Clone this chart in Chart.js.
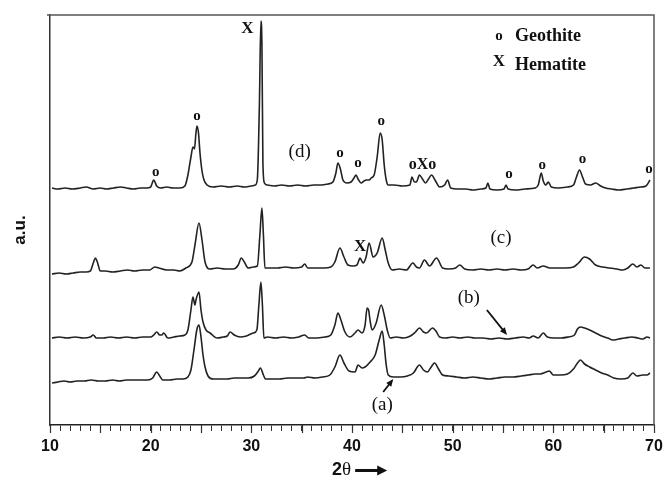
<!DOCTYPE html>
<html><head><meta charset="utf-8">
<script src="https://cdn.jsdelivr.net/npm/chart.js@4/dist/chart.umd.min.js"></script>
<style>html,body{margin:0;padding:0;background:#fff}#wrap{width:666px;height:481px;position:relative}</style>
</head><body><div id="wrap"><canvas id="c"></canvas></div>
<script>
// 2θ (degrees) and stacked intensity (a.u.)
const traceD = [[10.2,237],[10.8,236],[11.5,237],[12.2,236],[13,237],[13.6,238],[14.3,236],[15,237],[15.6,236],[16.3,237],[17,238],[17.6,237],[18.3,236],[19,237],[19.6,237],[20.0,238],[20.3,245],[20.6,239],[21,237],[21.6,238],[22.2,237],[22.9,237],[23.4,239],[23.7,250],[24.0,268],[24.2,278],[24.35,276],[24.5,292],[24.6,299],[24.75,292],[24.9,272],[25.1,254],[25.3,245],[25.6,240],[26.2,238],[27,239],[27.8,238],[28.6,239],[29.3,238],[30.0,239],[30.4,240],[30.6,246],[30.8,320],[30.95,404],[31.05,382],[31.15,262],[31.3,242],[31.6,240],[32.3,239],[33,240],[33.8,239],[34.6,240],[35.4,239],[36.2,240],[37,240],[37.6,241],[38.1,243],[38.4,252],[38.6,262],[38.85,256],[39.1,245],[39.5,242],[39.9,243],[40.2,247],[40.4,250],[40.6,246],[40.9,242],[41.2,244],[41.4,245],[41.7,245],[41.9,247],[42.2,250],[42.5,268],[42.8,292],[43.0,285],[43.2,260],[43.4,245],[43.6,240],[44.2,240],[45,239],[45.75,240],[45.95,248],[46.2,243],[46.4,243],[46.7,250],[47.0,246],[47.3,242],[47.6,246],[47.9,250],[48.3,244],[48.7,238],[49.2,240],[49.5,245],[49.8,237],[50.5,236],[51.3,236],[52,235],[52.8,236],[53.3,237],[53.5,242],[53.7,236],[54.4,235],[55.1,236],[55.3,240],[55.5,236],[56.3,235],[57.2,236],[58.2,237],[58.5,240],[58.8,252],[59.0,244],[59.25,240],[59.5,243],[59.8,238],[60.5,237],[61.4,238],[62,240],[62.3,248],[62.6,255],[62.9,248],[63.2,241],[63.7,240],[64.2,242],[64.7,239],[65.2,237],[65.8,236],[66.5,235],[67.3,236],[68,237],[68.7,238],[69.2,239],[69.6,245]];
const traceC = [[10.2,151],[10.9,152],[11.6,151],[12.3,152],[13,153],[13.6,153],[14.0,154],[14.3,162],[14.5,167],[14.7,163],[15.0,154],[15.5,154],[16.2,153],[17,154],[17.7,155],[18.4,154],[19.2,155],[19.9,155],[20.4,158],[20.8,157],[21.6,155],[22.3,155],[22.9,154],[23.5,157],[24.1,163],[24.4,180],[24.8,202],[25.1,185],[25.4,163],[25.9,156],[26.6,157],[27.4,156],[28.2,156],[28.7,160],[29.0,167],[29.3,163],[29.7,157],[30.2,158],[30.6,159],[30.85,190],[31.05,217],[31.2,190],[31.35,157],[31.8,157],[32.6,157],[33.4,158],[34.2,157],[35,158],[35.3,161],[35.6,157],[36.4,157],[37.2,157],[37.9,158],[38.3,163],[38.8,177],[39.2,168],[39.6,160],[40.1,159],[40.5,160],[40.8,167],[41.1,162],[41.4,168],[41.7,182],[42.1,168],[42.5,172],[43.0,187],[43.3,175],[43.6,162],[44.0,155],[44.7,156],[45.4,155],[46.05,162],[46.4,158],[46.7,157],[47.2,165],[47.7,159],[48.4,167],[49.0,157],[49.6,156],[50.3,157],[50.7,160],[51.2,156],[52,155],[52.8,156],[53.6,155],[54.4,156],[55.2,155],[56,156],[56.8,155],[57.5,156],[58.0,160],[58.4,157],[59,159],[59.65,157],[60.4,157],[61.2,157],[62,158],[62.5,162],[63.1,168],[63.6,166],[64.2,160],[64.9,158],[65.6,157],[66.3,156],[66.9,155],[67.4,157],[67.9,161],[68.3,158],[68.7,160],[69.1,157],[69.6,157]];
const traceB = [[10.2,87],[10.9,88],[11.7,87],[12.5,88],[13.3,87],[14.0,88],[14.3,90],[14.6,87],[15.3,87],[16,88],[16.8,87],[17.6,88],[18.4,87],[19.2,88],[20,88],[20.3,90],[20.6,93],[20.9,90],[21.1,90],[21.3,92],[21.7,87],[22.3,88],[22.9,89],[23.4,90],[23.7,95],[24.0,115],[24.2,128],[24.4,120],[24.5,125],[24.8,133],[25.0,115],[25.2,103],[25.5,95],[25.9,92],[26.6,87],[27.2,88],[27.6,89],[27.9,93],[28.3,90],[28.9,88],[29.5,89],[30.2,92],[30.55,95],[30.75,120],[30.95,143],[31.1,120],[31.25,87],[31.6,88],[32.4,87],[33.2,88],[34,87],[34.7,88],[35.3,90],[35.7,87],[36.5,87],[37.3,88],[37.9,90],[38.3,100],[38.6,112],[38.9,105],[39.3,93],[39.8,88],[40.3,92],[40.6,95],[41.0,92],[41.3,100],[41.5,117],[41.65,115],[41.8,104],[42.0,95],[42.4,102],[42.9,120],[43.2,110],[43.5,95],[43.8,87],[44.4,88],[45.1,87],[45.8,89],[46.3,93],[46.7,97],[47.1,93],[47.4,92],[48.0,97],[48.4,93],[48.7,88],[49.3,87],[50,88],[50.7,87],[51.5,88],[52.2,87],[53,87],[53.8,86],[54.6,87],[55.4,86],[56.2,87],[57.0,88],[57.6,87],[58.0,89],[58.5,87],[59.0,92],[59.4,88],[60.1,87],[60.8,87],[61.5,88],[62.1,90],[62.4,96],[62.7,98],[63.1,97],[63.6,95],[64.2,92],[64.8,89],[65.4,87],[65.9,85],[66.5,86],[67.1,87],[67.8,88],[68.4,87],[68.9,86],[69.3,88],[69.6,87]];
const traceA = [[10.2,42],[10.8,43],[11.4,44],[12,43],[12.7,44],[13.4,44],[14.1,45],[14.8,44],[15.5,44],[16.2,45],[16.9,44],[17.6,45],[18.3,45],[19,45],[19.7,45],[20.2,47],[20.6,53],[20.9,49],[21.2,45],[21.9,45],[22.6,46],[23.2,46],[23.7,48],[24.0,55],[24.3,75],[24.6,96],[24.8,100],[25.0,88],[25.2,70],[25.4,58],[25.7,49],[26.2,46],[26.9,46],[27.6,46],[28.3,47],[29,47],[29.7,47],[30.3,49],[30.7,54],[30.9,57],[31.2,50],[31.4,46],[32,46],[32.8,46],[33.6,47],[34.4,47],[35.2,47],[35.6,48],[36.3,47],[37.1,48],[37.8,50],[38.3,58],[38.8,70],[39.2,62],[39.7,54],[40.3,53],[40.6,60],[41.0,57],[41.3,58],[41.8,63],[42.3,70],[42.7,85],[43.0,94],[43.2,80],[43.4,60],[43.6,50],[44.1,48],[44.8,48],[45.5,49],[46.1,52],[46.7,60],[47.1,55],[47.5,53],[47.8,57],[48.2,62],[48.6,56],[49.0,50],[49.6,49],[50.4,48],[51.2,47],[52,48],[52.8,47],[53.6,46],[54.4,47],[55.2,48],[56,48],[56.8,49],[57.5,50],[58.2,51],[58.7,51],[59.3,53],[59.6,54],[60,50],[60.7,50],[61.4,51],[62,56],[62.4,62],[62.7,65],[63.1,61],[63.6,58],[64.2,55],[64.8,52],[65.4,50],[66,47],[66.7,46],[67.4,47],[67.9,52],[68.3,49],[68.9,50],[69.3,50],[69.6,52]];

const seriesNames = ['(a)', '(b)', '(c)', '(d)'];
const xTickLabels = [10, 20, 30, 40, 50, 60, 70];
const xMajorTicks = [10, 15, 20, 25, 30, 35, 40, 45, 50, 55, 60, 65, 70];
const xTitle = '2θ';
const yTitle = 'a.u.';
// phase markers: [text, 2θ, a.u.]
const phaseMarks = [['o',20.5,253],['o',24.6,309],['X',29.6,396],['o',38.8,272],['o',40.6,262],['o',42.9,304],['oXo',47.0,260],['o',55.6,251],['o',58.9,260],['o',62.9,266],['o',69.5,256],['X',40.8,178]];
// series labels: [text, 2θ, a.u.]
const seriesLabelPos = [['(a)',43.0,20],['(b)',51.6,127],['(c)',54.8,187],['(d)',34.8,273]];
const legendItems = [['o','Geothite'],['X','Hematite']];

const overlay = {
  id: 'overlay',
  afterDraw(chart) {
    const {ctx, chartArea: a, scales: {x, y}} = chart;
    ctx.save();
    ctx.strokeStyle = '#555'; ctx.lineWidth = 1.5;
    ctx.beginPath(); ctx.moveTo(a.left - 3, a.top); ctx.lineTo(a.right, a.top); ctx.lineTo(a.right, a.bottom); ctx.stroke();

    // slightly longer major ticks
    ctx.strokeStyle = '#333'; ctx.lineWidth = 1.2;
    ctx.beginPath();
    xMajorTicks.forEach(v => { const px = Math.round(x.getPixelForValue(v)) + 0.5; ctx.moveTo(px, a.bottom); ctx.lineTo(px, a.bottom + 8); });
    ctx.stroke();

    ctx.fillStyle = '#111';
    ctx.textAlign = 'center'; ctx.textBaseline = 'middle';
    phaseMarks.forEach(([t, px, py]) => {
      ctx.font = (t === 'o' ? 'bold 15px' : 'bold 17px') + ' "Liberation Serif", serif';
      if (t === 'oXo') ctx.font = 'bold 16px "Liberation Serif", serif';
      ctx.fillText(t, x.getPixelForValue(px), y.getPixelForValue(py));
    });
    ctx.font = '19px "Liberation Serif", serif';
    seriesLabelPos.forEach(([t, px, py]) => ctx.fillText(t, x.getPixelForValue(px), y.getPixelForValue(py)));

    // arrows for (a) and (b)
    const arrow = (x1, y1, x2, y2) => {
      const X1 = x.getPixelForValue(x1), Y1 = y.getPixelForValue(y1), X2 = x.getPixelForValue(x2), Y2 = y.getPixelForValue(y2);
      const ang = Math.atan2(Y2 - Y1, X2 - X1);
      ctx.strokeStyle = '#111'; ctx.lineWidth = 1.8;
      ctx.beginPath(); ctx.moveTo(X1, Y1); ctx.lineTo(X2 - 5 * Math.cos(ang), Y2 - 5 * Math.sin(ang)); ctx.stroke();
      ctx.beginPath(); ctx.moveTo(X2, Y2);
      ctx.lineTo(X2 - 8 * Math.cos(ang - 0.4), Y2 - 8 * Math.sin(ang - 0.4));
      ctx.lineTo(X2 - 8 * Math.cos(ang + 0.4), Y2 - 8 * Math.sin(ang + 0.4));
      ctx.closePath(); ctx.fill();
    };
    arrow(43.1, 33, 44.1, 46);
    arrow(53.4, 115, 55.4, 90);

    // legend
    const lx = x.getPixelForValue(54.6), ly0 = a.top + 21;
    legendItems.forEach(([m, label], i) => {
      const ly = ly0 + i * 27;
      ctx.textAlign = 'center';
      ctx.font = (m === 'o' ? 'bold 15px' : 'bold 17px') + ' "Liberation Serif", serif';
      ctx.fillText(m, lx, ly - (i ? 1 : 0));
      ctx.textAlign = 'left';
      ctx.font = 'bold 18px "Liberation Serif", serif';
      ctx.fillText(label, lx + 16, ly + (i ? 2 : 0));
    });

    // y title
    ctx.save();
    ctx.translate(20, (a.top + a.bottom) / 2 + 10);
    ctx.rotate(-Math.PI / 2);
    ctx.textAlign = 'center';
    ctx.font = 'bold 17px "Liberation Sans", Arial, sans-serif';
    ctx.fillText(yTitle, 0, 0);
    ctx.restore();

    // x title with arrow
    const cx = x.getPixelForValue(40.8), cy = a.bottom + 45;
    ctx.textAlign = 'left';
    ctx.font = 'bold 18px "Liberation Sans", Arial, sans-serif';
    ctx.fillText(xTitle[0], cx - 28, cy);
    const w2 = ctx.measureText(xTitle[0]).width;
    ctx.font = '19px "Liberation Serif", serif';
    ctx.fillText(xTitle[1], cx - 28 + w2, cy);
    const w3 = ctx.measureText(xTitle[1]).width;
    const ax = cx - 28 + w2 + w3 + 4;
    ctx.fillStyle = '#111';
    ctx.fillRect(ax, cy - 1, 24, 3);
    ctx.beginPath(); ctx.moveTo(ax + 32, cy + 0.5); ctx.lineTo(ax + 22, cy - 4.5); ctx.lineTo(ax + 22, cy + 5.5); ctx.closePath(); ctx.fill();
    ctx.restore();
  }
};

const mk = (data) => ({data, borderColor: '#222', borderWidth: 1.6, pointRadius: 0, cubicInterpolationMode: 'monotone', fill: false});

new Chart(document.getElementById('c'), {
  type: 'line',
  data: {datasets: [traceA, traceB, traceC, traceD].map((d, i) => Object.assign(mk(d), {label: seriesNames[i]}))},
  options: {
    responsive: true, maintainAspectRatio: false, animation: false, devicePixelRatio: 1,
    layout: {padding: {top: 15, right: 12, left: 0, bottom: 0}},
    plugins: {legend: {display: false}, tooltip: {enabled: false}},
    scales: {
      x: {
        type: 'linear', min: 10, max: 70,
        afterFit: s => { s.height = 56; s.paddingRight = 0; s.paddingLeft = 0; },
        border: {display: true, color: '#222', width: 1.5},
        grid: {drawOnChartArea: false, drawTicks: true, tickLength: 6, tickColor: '#333', tickWidth: 1},
        ticks: {stepSize: 1, autoSkip: false, maxRotation: 0, padding: 6, color: '#111',
          font: {family: '"Liberation Sans", Arial, sans-serif', size: 16, weight: 'bold'},
          callback: v => xTickLabels.includes(v) ? String(v) : ''}
      },
      y: {
        min: 0, max: 410,
        afterFit: s => { s.width = 50; },
        border: {display: true, color: '#333', width: 1.5},
        grid: {display: false},
        ticks: {display: false}
      }
    }
  },
  plugins: [overlay]
});
</script></body></html>
